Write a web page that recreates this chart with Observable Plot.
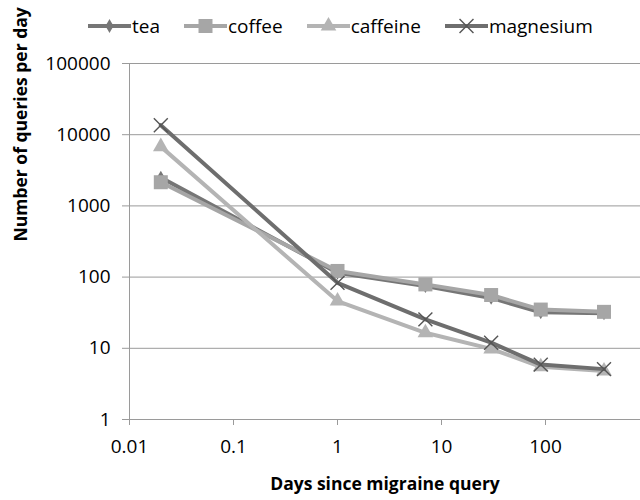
<!DOCTYPE html>
<html><head><meta charset="utf-8">
<script src="https://cdn.jsdelivr.net/npm/d3@7"></script>
<script src="https://cdn.jsdelivr.net/npm/@observablehq/plot@0.6"></script>
<style>
body{margin:0;background:#fff;font-family:"Open Sans",sans-serif;}
#wrap{width:640px;height:500px;position:relative;overflow:hidden;}
#legend{height:44px;position:relative;}
#legend .items{position:absolute;left:88px;top:16px;display:flex;align-items:center;height:20px;}
#legend .item{display:flex;align-items:center;margin-right:24px;}
#legend .item span{font-size:19px;line-height:20px;color:#000;margin-left:1px;}
</style></head>
<body><div id="wrap"><div id="legend"><div class="items"></div></div><div id="chart"></div></div>
<script>
const days = [0.02, 1, 7, 30, 90, 365];
const tea = [2500, 115, 75, 51, 32, 31];
const coffee = [2150, 122, 79, 56, 35, 32.5];
const caffeine = [6800, 46, 16.5, 9.8, 5.5, 4.8];
const magnesium = [13600, 83, 25.5, 12, 5.9, 5.1];
const seriesNames = ["tea", "coffee", "caffeine", "magnesium"];
const seriesValues = [tea, coffee, caffeine, magnesium];
const colors = ["#767676", "#a6a6a6", "#b4b4b4", "#6e6e6e"];
const symbols = ["diamond", "square", "triangle", "times"];
const yTicks = [1, 10, 100, 1000, 10000, 100000];
const xTicks = [0.01, 0.1, 1, 10, 100];
const xTitle = "Days since migraine query";
const yTitle = "Number of queries per day";

const rows = [];
seriesNames.forEach((s, i) => days.forEach((d, j) => rows.push({series: s, day: d, value: seriesValues[i][j]})));

// marker settings
const markerR = {diamond: 4.2, square: 7.9, triangle: 5.8, times: 6.4};

const marks = [
  Plot.ruleY(yTicks, {stroke: "#9a9a9a", strokeWidth: 1}),
  Plot.ruleX([0.01], {stroke: "#9a9a9a", strokeWidth: 1}),
  Plot.axisY({ticks: yTicks, tickFormat: d => String(d), tickSize: 7, tickPadding: 12, stroke: "#9a9a9a", fontSize: 19, label: null}),
  Plot.axisX({ticks: xTicks, tickFormat: d => String(d), tickSize: 6, tickPadding: 14, stroke: "#9a9a9a", fontSize: 19, label: null}),
];
seriesNames.forEach((s, i) => {
  const data = rows.filter(r => r.series === s);
  marks.push(Plot.line(data, {x: "day", y: "value", stroke: colors[i], strokeWidth: 4, strokeLinejoin: "round"}));
  const sym = symbols[i];
  if (sym === "times") {
    marks.push(Plot.dot(data, {x: "day", y: "value", symbol: sym, r: markerR[sym], stroke: "#555", strokeWidth: 1.4}));
  } else {
    marks.push(Plot.dot(data, {x: "day", y: "value", symbol: sym, r: markerR[sym], fill: colors[i], stroke: "none"}));
  }
});
marks.push(Plot.text([xTitle], {frameAnchor: "bottom", dy: 70, fontSize: 17.5, fontWeight: "bold", fill: "#000"}));
marks.push(Plot.text([yTitle], {frameAnchor: "left", dx: -108, rotate: -90, fontSize: 17.5, fontWeight: "bold", fill: "#000"}));

const chart = Plot.plot({
  width: 640, height: 456,
  marginLeft: 129, marginRight: 0, marginTop: 19, marginBottom: 81,
  style: {fontFamily: "'Open Sans', sans-serif", fontSize: "19px", color: "#000", background: "#fff", overflow: "visible"},
  x: {type: "log", domain: [0.01, 819]},
  y: {type: "log", domain: [1, 100000]},
  marks
});
document.getElementById("chart").appendChild(chart);

// legend
const items = d3.select("#legend .items");
seriesNames.forEach((s, i) => {
  const it = items.append("div").attr("class", "item");
  const svg = it.append("svg").attr("width", 43).attr("height", 20);
  svg.append("line").attr("x1", 0).attr("x2", 43).attr("y1", 10).attr("y2", 10).attr("stroke", colors[i]).attr("stroke-width", 4);
  const sym = symbols[i];
  const typ = {diamond: d3.symbolDiamond, square: d3.symbolSquare, triangle: d3.symbolTriangle, times: d3.symbolTimes}[sym];
  const r = markerR[sym];
  const p = svg.append("path").attr("transform", "translate(21.5,10)").attr("d", d3.symbol(typ, Math.PI * r * r)());
  if (sym === "times") p.attr("fill", "none").attr("stroke", "#555").attr("stroke-width", 1.4);
  else p.attr("fill", colors[i]);
  it.append("span").text(s);
});
</script></body></html>
